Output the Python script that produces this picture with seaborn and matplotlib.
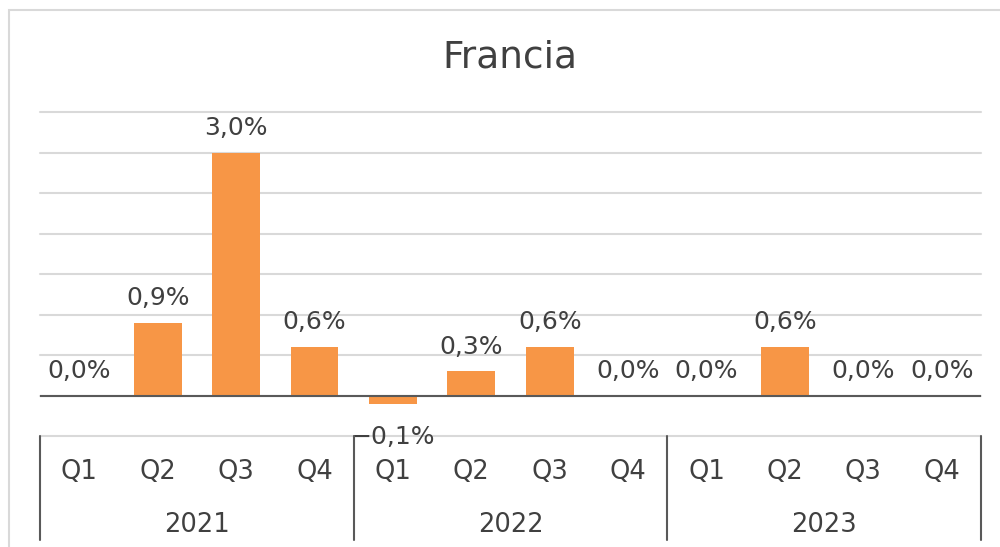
import matplotlib
matplotlib.use("Agg")
import matplotlib.pyplot as plt
import seaborn as sns
import pandas as pd
from matplotlib.patches import Rectangle

years = ["2021", "2022", "2023"]
quarters = ["Q1", "Q2", "Q3", "Q4"]
values = [0.0, 0.9, 3.0, 0.6,
          -0.1, 0.3, 0.6, 0.0,
          0.0, 0.6, 0.0, 0.0]
title = "Francia"

keys = [f"{y}-{q}" for y in years for q in quarters]
df = pd.DataFrame({"key": keys, "val": values})

sns.set_theme(style="white")
plt.rcParams["font.family"] = ["DejaVu Sans"]

TEXT = "#404040"
BAR = "#F79646"
GRID = "#D9D9D9"
FS = 18

fig = plt.figure(figsize=(10, 5.47), dpi=100)
fig.patch.set_facecolor("white")
fig.patches.append(Rectangle((0.009, -0.2), 1.3, 1.2 - 10/547, transform=fig.transFigure,
                             fill=False, edgecolor=GRID, linewidth=1.5))
ax = fig.add_axes([0.040, 1 - 436/547, 0.941, (436 - 112)/547])

sns.barplot(data=df, x="key", y="val", order=keys, color=BAR, width=0.61,
            saturation=1, linewidth=0, edgecolor="none", ax=ax, zorder=3)

ax.set_xlim(-0.5, 11.5)
ax.set_ylim(-0.5, 3.5)
ax.set_yticks([-0.5, 0, 0.5, 1, 1.5, 2, 2.5, 3, 3.5])
ax.yaxis.grid(True, color=GRID, linewidth=1.5, zorder=0)
for gl in ax.get_ygridlines():
    gl.set_clip_on(False)
ax.set_yticklabels([])
ax.tick_params(left=False, bottom=False, labelbottom=False)
ax.set_xlabel("")
ax.set_ylabel("")
for s in ax.spines.values():
    s.set_visible(False)
ax.axhline(0, color="#595959", linewidth=1.5, zorder=4)

# value labels
for i, v in enumerate(values):
    lab = f"{abs(v):.1f}".replace(".", ",") + "%"
    if v < 0:
        lab = "\u2212" + lab
        ax.annotate(lab, (i, v), xytext=(0, -15.5), textcoords="offset points",
                    ha="center", va="top", fontsize=FS, color=TEXT)
    else:
        ax.annotate(lab, (i, v), xytext=(0, 9), textcoords="offset points",
                    ha="center", va="bottom", fontsize=FS, color=TEXT)

# multi-level category axis
for i, k in enumerate(keys):
    ax.text(i, -0.5 - 36/81, k.split("-")[1], ha="center", va="center",
            fontsize=FS + 0.5, color=TEXT)
for j, y in enumerate(years):
    ax.text(j * 4 + 1.5, -0.5 - 89/81, y, ha="center", va="center",
            fontsize=FS + 0.5, color=TEXT)
for xb in [-0.5, 3.5, 7.5, 11.5]:
    ax.plot([xb, xb], [-0.5, -0.5 - 104/81], color="#595959", linewidth=1.5,
            clip_on=False, zorder=5)

fig.text(0.510, 1 - 57/547, title, ha="center", va="center", fontsize=27, color=TEXT)

fig.savefig("out.png", dpi=100, facecolor="white")
